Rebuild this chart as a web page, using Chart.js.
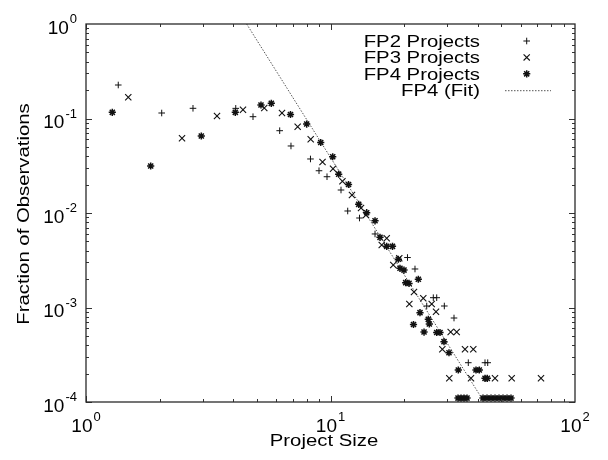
<!DOCTYPE html>
<html><head><meta charset="utf-8">
<script src="https://cdn.jsdelivr.net/npm/chart.js@4.4.1/dist/chart.umd.min.js"></script>
<style>html,body{margin:0;padding:0;background:#fff;}#wrap{width:608px;height:460px;}</style>
</head><body><div id="wrap"><canvas id="c" width="608" height="460"></canvas></div>
<script>
// ---- data ----
const seriesLabels = ['FP2 Projects', 'FP3 Projects', 'FP4 Projects', 'FP4 (Fit)'];
const xTitle = 'Project Size';
const yTitle = 'Fraction of Observations';

const fp2X = [1.355, 2.04, 2.739, 4.097, 4.82, 6.197, 6.892, 8.282, 8.974, 9.676,
  11.04, 11.76, 13.14, 15.21, 20.65, 22.16, 26.33, 27.19, 24.75, 29.21,
  32.0, 36.61, 42.85, 43.95];
const fp2Y = [0.2262, 0.1143, 0.1282, 0.128, 0.1045, 0.0743, 0.0512, 0.0373, 0.028, 0.0242,
  0.01751, 0.0105, 0.00885, 0.006, 0.00338, 0.002556, 0.00127, 0.00127, 0.001037, 0.001037,
  0.000774, 0.0002605, 0.0002605, 0.0002605];

const fp3X = [1.489, 2.47, 3.434, 4.386, 5.36, 6.333, 7.34, 8.299, 9.275, 10.24,
  11.19, 12.24, 13.33, 13.97, 16.98, 16.2, 19.11, 18.06, 21.95, 23.96,
  21.01, 25.94, 27.01, 31.01, 32.82, 28.67, 35.49, 38.37, 30.61, 37.55,
  47.08, 55.09, 72.6];
const fp3Y = [0.1676, 0.0617, 0.1063, 0.1239, 0.1292, 0.1143, 0.0819, 0.0602, 0.0346, 0.0294,
  0.02164, 0.0155, 0.0113, 0.00953, 0.0054, 0.00459, 0.00332, 0.00282, 0.001459, 0.001252,
  0.001089, 0.001089, 0.000903, 0.00055, 0.00055, 0.000361, 0.000361, 0.000361, 0.000178, 0.000178,
  0.000178, 0.000178, 0.000178];

const fp4X = [1.281, 1.839, 2.962, 4.08, 5.196, 5.727, 6.86, 7.99, 9.12, 10.21,
  10.8, 11.85, 13.04, 14.06, 15.21, 15.94, 16.98, 17.93, 18.94, 19.24,
  19.98, 20.3, 20.95, 22.87, 23.23, 25.12, 21.85, 25.36, 24.13, 27.19,
  28.05, 29.12, 30.52, 33.32, 39.36, 40.61, 42.85, 43.78,
  33.23, 34.18, 35.16, 36.17,
  42.05, 43.66, 45.34, 47.08, 48.89, 50.76, 52.72, 54.73];
const fp4Y = [0.1163, 0.03144, 0.0653, 0.1163, 0.1389, 0.1448, 0.1102, 0.0874, 0.0557, 0.0394,
  0.02574, 0.02002, 0.01236, 0.01007, 0.00827, 0.00553, 0.00444, 0.00444, 0.00324, 0.0026,
  0.00249, 0.00183, 0.0018, 0.00199, 0.000881, 0.00075, 0.000661, 0.000669, 0.00055, 0.000544,
  0.000544, 0.000435, 0.000332, 0.000218, 0.000218, 0.000218, 0.000178, 0.000178,
  0.00011, 0.00011, 0.00011, 0.00011,
  0.00011, 0.00011, 0.00011, 0.00011, 0.00011, 0.00011, 0.00011, 0.00011];

const fitX = [4.54, 42.5];
const fitY = [1, 0.0001];

const xTickValues = [1, 10, 100];
const xTickExps = ['0', '1', '2'];
const yTickValues = [1, 0.1, 0.01, 0.001, 0.0001];
const yTickExps = ['0', '-1', '-2', '-3', '-4'];

// ---- chart ----
const pts = (xs, ys) => xs.map((x, i) => ({x: x, y: ys[i]}));
const INK = '#111';
const FONT = '"Liberation Sans", Arial, Helvetica, sans-serif';

const frame = {
  id: 'frame',
  afterDraw(chart) {
    const c = chart.ctx, a = chart.chartArea, xs = chart.scales.x, ys = chart.scales.y;
    c.save();
    // tick marks (inward, mirrored)
    c.strokeStyle = '#333';
    c.lineWidth = 1;
    c.beginPath();
    [1, 10].forEach(d => {
      for (let m = 1; m <= 9; m++) {
        const px = Math.round(xs.getPixelForValue(d * m)) + 0.5;
        const len = m === 1 ? 6 : 3;
        c.moveTo(px, a.bottom); c.lineTo(px, a.bottom - len);
        c.moveTo(px, a.top); c.lineTo(px, a.top + len);
      }
    });
    [0.0001, 0.001, 0.01, 0.1].forEach(d => {
      for (let m = 1; m <= 9; m++) {
        const py = Math.round(ys.getPixelForValue(d * m)) + 0.5;
        const len = m === 1 ? 6 : 3;
        c.moveTo(a.left, py); c.lineTo(a.left + len, py);
        c.moveTo(a.right, py); c.lineTo(a.right - len, py);
      }
    });
    c.stroke();
    // box
    c.lineWidth = 1.3;
    c.strokeStyle = '#2a2a2a';
    c.strokeRect(a.left, a.top, a.right - a.left, a.bottom - a.top);

    c.fillStyle = '#000';
    c.textBaseline = 'alphabetic';
    // y tick labels
    yTickValues.forEach((v, i) => {
      const py = ys.getPixelForValue(v);
      c.font = '19px ' + FONT;
      const w10 = c.measureText('10').width;
      c.font = '13px ' + FONT;
      const we = c.measureText(yTickExps[i]).width;
      const x0 = 77 - we - w10 - 1;
      c.font = '19px ' + FONT;
      c.textAlign = 'left';
      c.fillText('10', x0, py + 9.5);
      c.font = '13px ' + FONT;
      c.fillText(yTickExps[i], x0 + w10 + 1, py - 1);
    });
    // x tick labels
    xTickValues.forEach((v, i) => {
      const px = xs.getPixelForValue(v);
      c.font = '19px ' + FONT;
      const w10 = c.measureText('10').width;
      c.font = '13px ' + FONT;
      const we = c.measureText(xTickExps[i]).width;
      const x0 = px - (w10 + 1 + we) / 2;
      c.font = '19px ' + FONT;
      c.textAlign = 'left';
      c.fillText('10', x0, 431.7);
      c.font = '13px ' + FONT;
      c.fillText(xTickExps[i], x0 + w10 + 1, 421);
    });
    const SX = 1.27;
    // axis titles
    c.font = '16px ' + FONT;
    c.save();
    c.translate(324, 445.7); c.scale(SX, 1); c.textAlign = 'center';
    c.fillText(xTitle, 0, 0);
    c.restore();
    c.save();
    c.translate(29, 214); c.rotate(-Math.PI / 2); c.scale(SX, 1); c.textAlign = 'center';
    c.fillText(yTitle, 0, 0);
    c.restore();
    // legend
    chart.data.datasets.forEach((ds, i) => {
      const cy = 41 + 16.4 * i;
      c.save();
      c.font = '16px ' + FONT;
      c.translate(480, cy + 5.7); c.scale(SX, 1); c.textAlign = 'right';
      c.fillText(ds.label, 0, 0);
      c.restore();
      if (ds.showLine) {
        c.save();
        c.strokeStyle = ds.borderColor; c.lineWidth = ds.borderWidth;
        c.setLineDash(ds.borderDash);
        c.beginPath(); c.moveTo(505, cy + 0.5); c.lineTo(551, cy + 0.5); c.stroke();
        c.restore();
      } else {
        c.save();
        c.strokeStyle = ds.pointBorderColor; c.fillStyle = ds.pointBorderColor;
        c.lineWidth = ds.pointBorderWidth;
        Chart.helpers.drawPoint(c, {pointStyle: ds.pointStyle, radius: ds.pointRadius, rotation: 0, borderWidth: ds.pointBorderWidth}, 526.7, cy);
        c.restore();
      }
    });
    c.restore();
  }
};

new Chart(document.getElementById('c'), {
  type: 'scatter',
  data: {
    datasets: [
      {label: seriesLabels[0], data: pts(fp2X, fp2Y), pointStyle: 'cross', pointRadius: 3.3,
       pointBorderColor: INK, pointBackgroundColor: INK, pointBorderWidth: 1, showLine: false},
      {label: seriesLabels[1], data: pts(fp3X, fp3Y), pointStyle: 'crossRot', pointRadius: 4.4,
       pointBorderColor: INK, pointBackgroundColor: INK, pointBorderWidth: 1.1, showLine: false},
      {label: seriesLabels[2], data: pts(fp4X, fp4Y), pointStyle: 'star', pointRadius: 3.6,
       pointBorderColor: INK, pointBackgroundColor: INK, pointBorderWidth: 1.5, showLine: false},
      {label: seriesLabels[3], data: pts(fitX, fitY), showLine: true, pointRadius: 0,
       borderColor: '#555', borderWidth: 1, borderDash: [1.5, 1.5], fill: false}
    ]
  },
  options: {
    responsive: false,
    animation: false,
    devicePixelRatio: 1,
    layout: {padding: {top: 24, right: 33, left: 0, bottom: 0}},
    plugins: {legend: {display: false}, tooltip: {enabled: false}, title: {display: false}},
    scales: {
      x: {type: 'logarithmic', min: 1, max: 100,
          ticks: {display: false}, grid: {display: false}, border: {display: false},
          afterFit: s => { s.height = 58; }},
      y: {type: 'logarithmic', min: 0.0001, max: 1,
          ticks: {display: false}, grid: {display: false}, border: {display: false},
          afterFit: s => { s.width = 86; }}
    }
  },
  plugins: [frame]
});
</script>
</body></html>
